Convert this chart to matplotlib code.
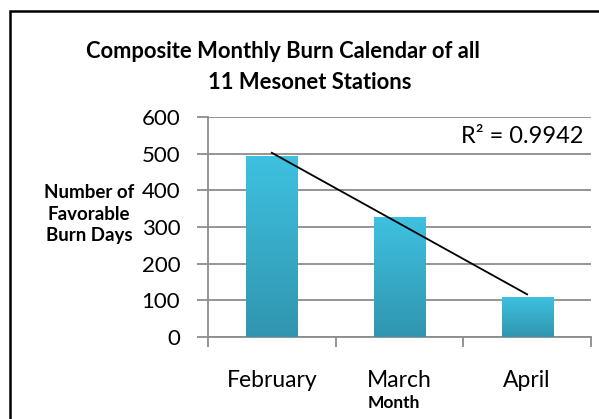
import matplotlib
matplotlib.use('Agg')
import matplotlib.pyplot as plt
import numpy as np
from matplotlib.colors import LinearSegmentedColormap
from matplotlib.patches import Rectangle

# Data
months = ['February', 'March', 'April']
burn_days = [494, 326, 108]
r2_text = 'R² = 0.9942'

plt.rcParams['font.family'] = ['Lato', 'DejaVu Sans']

fig = plt.figure(figsize=(5.99, 4.19), dpi=100)
ax = fig.add_axes([0.3472, 0.1957, 0.6394, 0.5251])

x = np.arange(len(months))
bars = ax.bar(x, burn_days, width=0.4, color='none', zorder=3)

# Vertical gradient fill for each bar (light cyan at top, darker teal at bottom)
cmap = LinearSegmentedColormap.from_list('bar', ['#3195AF', '#3EC1E0'])
grad = np.linspace(0, 1, 256).reshape(-1, 1)
for b in bars:
    x0, y0 = b.get_x(), b.get_y()
    w, h = b.get_width(), b.get_height()
    im = ax.imshow(grad, cmap=cmap, origin='lower', aspect='auto',
                   extent=[x0, x0 + w, y0, y0 + h], zorder=3)
    im.set_clip_path(b)

# Linear trend line through the bar centres
coef = np.polyfit(x, burn_days, 1)
ax.plot(x, np.polyval(coef, x), color='black', linewidth=1.3, zorder=4)
ax.text(2.44, 546, r2_text, ha='right', va='center', fontsize=17)

ax.set_xlim(-0.5, 2.5)
ax.set_ylim(0, 600)
ax.set_yticks(np.arange(0, 601, 100))
ax.yaxis.grid(True, color='#8C8C8C', linewidth=1.3, zorder=0)
ax.set_axisbelow(True)

ax.set_xticks(x)
ax.set_xticklabels(months)
ax.set_xticks(np.arange(-0.5, 3, 1), minor=True)
ax.tick_params(axis='x', which='major', length=0, pad=24, labelsize=16.5)
ax.tick_params(axis='x', which='minor', length=7, width=1.3, color='#8C8C8C', direction='out')
ax.tick_params(axis='y', length=8, width=1.3, color='#8C8C8C', pad=12, labelsize=16)

for s in ['top', 'right']:
    ax.spines[s].set_visible(False)
for s in ['left', 'bottom']:
    ax.spines[s].set_color('#8C8C8C')
    ax.spines[s].set_linewidth(1.3)

# Titles and axis labels
fig.text(283 / 599, 1 - 52 / 419, 'Composite Monthly Burn Calendar of all',
         ha='center', va='center', fontsize=15.8, fontweight='bold')
fig.text(310 / 599, 1 - 82 / 419, '11 Mesonet Stations',
         ha='center', va='center', fontsize=15.8, fontweight='bold')
fig.text(89 / 599, 1 - 214 / 419, 'Number of\nFavorable\nBurn Days',
         ha='center', va='center', fontsize=13.5, fontweight='bold', linespacing=1.33)
fig.text(394 / 599, 1 - 403 / 419, 'Month', ha='center', va='center',
         fontsize=12.5, fontweight='bold')

# Outer frame (cropped at right and bottom like the reference)
fig.patches.append(Rectangle((10 / 599, -0.1), 1.2, 1 - 11 / 419 + 0.1,
                             transform=fig.transFigure, fill=False,
                             edgecolor='black', linewidth=1.8))

fig.savefig('out.png', dpi=100)
